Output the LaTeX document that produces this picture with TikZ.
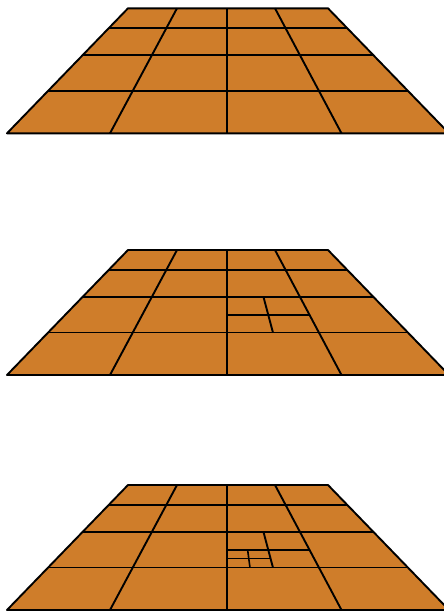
\documentclass[tikz,border=0pt]{standalone}
\usetikzlibrary{calc}
\definecolor{floorc}{RGB}{207,125,42}
\tikzset{
  floor/.style={fill=floorc, draw=black, line width=1.9pt, line join=round},
  gridline/.style={draw=black, line width=1.9pt, line cap=butt},
}
\begin{document}
\begin{tikzpicture}[x=1pt,y=-1pt]
\useasboundingbox (0,0) rectangle (444,611);
\foreach \off/\lev in {8.3/0, 250/1, 485/2}{
  \begin{scope}[yshift=-\off pt]
    \coordinate (TL) at (128,0);
    \coordinate (TR) at (328,0);
    \coordinate (BL) at (7,125);
    \coordinate (BR) at (449,125);
    \coordinate (V1t) at (177,0);
    \coordinate (V1b) at (110,125);
    \coordinate (V2t) at (227,0);
    \coordinate (V2b) at (227,125);
    \coordinate (V3t) at (275,0);
    \coordinate (V3b) at (341.5,125);
    \path[floor] (TL) -- (TR) -- (BR) -- (BL) -- cycle;
    \foreach \t in {0.16,0.376,0.66}{
      \draw[gridline] ($(TL)!\t!(BL)$) -- ($(TR)!\t!(BR)$);
    }
    \draw[gridline] (V1t) -- (V1b);
    \draw[gridline] (V2t) -- (V2b);
    \draw[gridline] (V3t) -- (V3b);
    \ifnum\lev>0
      \coordinate (A) at ($(V2t)!0.376!(V2b)$);
      \coordinate (B) at ($(V3t)!0.376!(V3b)$);
      \coordinate (C) at ($(V3t)!0.66!(V3b)$);
      \coordinate (D) at ($(V2t)!0.66!(V2b)$);
      \coordinate (AD) at ($(A)!0.5!(D)$);
      \coordinate (BC) at ($(B)!0.5!(C)$);
      \coordinate (AB) at ($(A)!0.5!(B)$);
      \coordinate (DC) at ($(D)!0.5!(C)$);
      \coordinate (M) at ($(AB)!0.5!(DC)$);
      \draw[gridline] (AD) -- (BC);
      \draw[gridline] (AB) -- (DC);
      \ifnum\lev>1
        \draw[gridline, line width=1.6pt] ($(AD)!0.5!(D)$) -- ($(M)!0.5!(DC)$);
        \draw[gridline, line width=1.6pt] ($(AD)!0.5!(M)$) -- ($(D)!0.5!(DC)$);
      \fi
    \fi
  \end{scope}
}
\end{tikzpicture}
\end{document}
